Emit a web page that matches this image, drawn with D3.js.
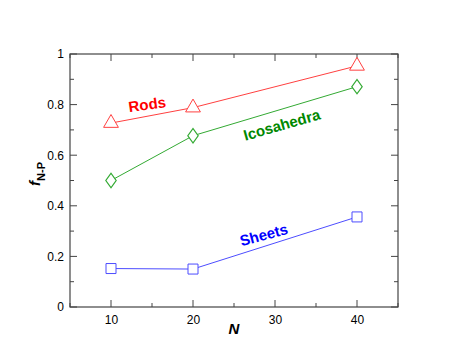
<!DOCTYPE html>
<html lang="en">
<head>
<meta charset="UTF-8" />
<title>f N-P vs N</title>
<style>
  body { margin: 0; background: #fff; }
  svg { display: block; font-family: "Liberation Sans", Arial, sans-serif; }
  .tick text { font-size: 12px; fill: #000; }
  .frame { fill: none; stroke: #444; stroke-width: 1.2; }
</style>
</head>
<body>
<svg width="469" height="362"></svg>
<script src="https://d3js.org/d3.v7.min.js"></script>
<script>
  const nValues = [10, 20, 40];
  const rods = [0.727, 0.788, 0.953];
  const icosahedra = [0.50, 0.677, 0.871];
  const sheets = [0.152, 0.150, 0.356];
  const xTicks = [10, 20, 30, 40];
  const yTicks = [0, 0.2, 0.4, 0.6, 0.8, 1];

  const svg = d3.select("svg");
  const mLeft = 70, mRight = 398, mTop = 54, mBottom = 307;

  const x = d3.scaleLinear().domain([5, 45]).range([mLeft, mRight]);
  const y = d3.scaleLinear().domain([0, 1]).range([mBottom, mTop]);

  // minor + major ticks, pointing inward on all four sides
  const g = svg.append("g");
  const minorX = d3.range(5, 46, 5);
  const minorY = d3.range(0, 1.01, 0.1);
  minorX.forEach(v => {
    const major = xTicks.includes(v);
    const len = major ? 7 : 4;
    g.append("line").attr("x1", x(v)).attr("x2", x(v)).attr("y1", mBottom).attr("y2", mBottom - len).attr("stroke", "#444");
    g.append("line").attr("x1", x(v)).attr("x2", x(v)).attr("y1", mTop).attr("y2", mTop + len).attr("stroke", "#444");
  });
  minorY.forEach(v => {
    const major = Math.abs(v * 5 - Math.round(v * 5)) < 1e-6;
    const len = major ? 7 : 4;
    g.append("line").attr("x1", mLeft).attr("x2", mLeft + len).attr("y1", y(v)).attr("y2", y(v)).attr("stroke", "#444");
    g.append("line").attr("x1", mRight).attr("x2", mRight - len).attr("y1", y(v)).attr("y2", y(v)).attr("stroke", "#444");
  });

  svg.append("rect").attr("class", "frame")
    .attr("x", mLeft).attr("y", mTop).attr("width", mRight - mLeft).attr("height", mBottom - mTop);

  const xAxis = svg.append("g").attr("transform", `translate(0,${mBottom})`)
    .call(d3.axisBottom(x).tickValues(xTicks).tickSize(0).tickPadding(8));
  xAxis.select(".domain").remove();

  const yAxis = svg.append("g").attr("transform", `translate(${mLeft},0)`)
    .call(d3.axisLeft(y).tickValues(yTicks).tickSize(0).tickPadding(6).tickFormat(d3.format("")));
  yAxis.select(".domain").remove();

  // axis titles
  svg.append("text").attr("x", x(25)).attr("y", 334).attr("text-anchor", "middle")
    .attr("font-size", 15).attr("font-weight", "bold").attr("font-style", "italic").text("N");

  const yl = svg.append("text").attr("transform", `translate(40,174) rotate(-90)`)
    .attr("text-anchor", "middle").attr("font-weight", "bold");
  yl.append("tspan").attr("font-size", 15).attr("font-style", "italic").text("f");
  yl.append("tspan").attr("font-size", 11).attr("dy", 5).text("N-P");

  const series = [
    { name: "Rods", values: rods, line: "#ff4040", shape: d3.symbolTriangle, size: 95 },
    { name: "Icosahedra", values: icosahedra, line: "#33aa33", shape: d3.symbolDiamond, size: 60 },
    { name: "Sheets", values: sheets, line: "#4d4dff", shape: d3.symbolSquare, size: 100 }
  ];

  const line = d3.line().x(d => x(d[0])).y(d => y(d[1]));

  series.forEach(s => {
    const pts = nValues.map((n, i) => [n, s.values[i]]);
    svg.append("path").attr("d", line(pts)).attr("fill", "none").attr("stroke", s.line).attr("stroke-width", 1);
    svg.selectAll(null).data(pts).join("path")
      .attr("transform", d => `translate(${x(d[0])},${y(d[1])})` + (s.shape === d3.symbolDiamond ? " scale(1.25,1)" : ""))
      .attr("d", d3.symbol(s.shape, s.size))
      .attr("fill", "#fff").attr("stroke", s.line).attr("stroke-width", 1);
  });

  // curve labels
  const labels = [
    { text: "Rods", color: "#ff0000", at: [14.5, 0.78], angle: -8 },
    { text: "Icosahedra", color: "#008800", at: [31, 0.70], angle: -16 },
    { text: "Sheets", color: "#0000ff", at: [28.8, 0.265], angle: -15 }
  ];
  labels.forEach(l => {
    svg.append("text")
      .attr("transform", `translate(${x(l.at[0])},${y(l.at[1])}) rotate(${l.angle})`)
      .attr("text-anchor", "middle").attr("font-size", 15).attr("font-weight", "bold")
      .attr("fill", l.color).text(l.text);
  });
</script>
</body>
</html>
